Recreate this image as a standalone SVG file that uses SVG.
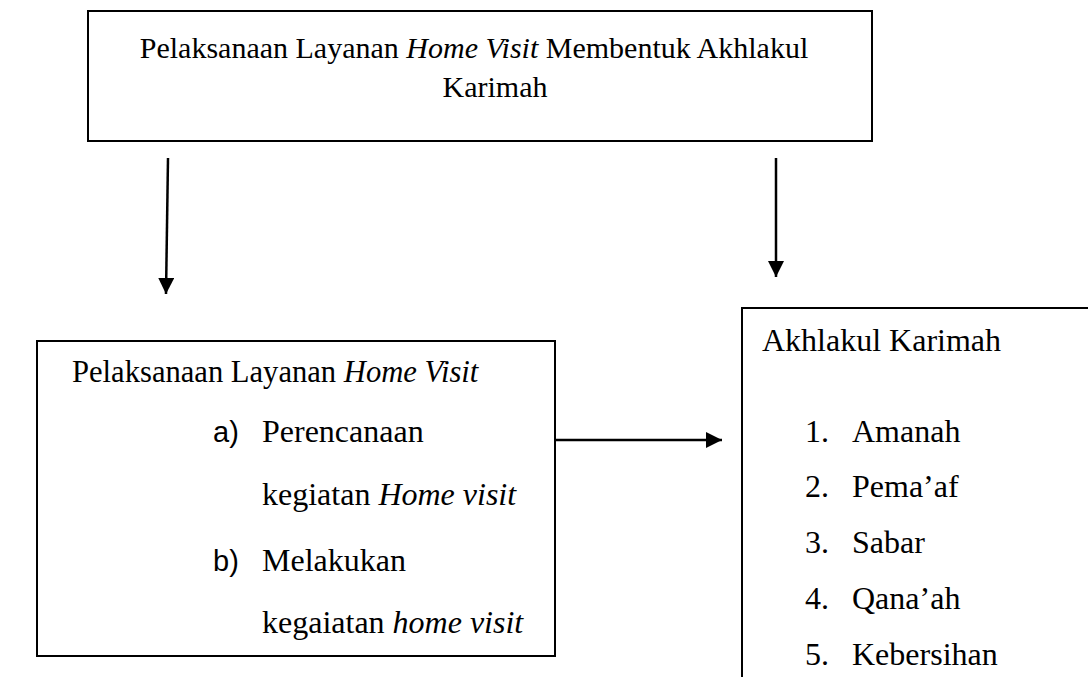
<svg xmlns="http://www.w3.org/2000/svg" width="1088" height="677" viewBox="0 0 1088 677">
<style>
.box{fill:#fff;stroke:#000;stroke-width:2}
.t{font-family:"Liberation Serif","Times New Roman",serif;font-size:32px;fill:#000}
.h{font-family:"Liberation Serif","Times New Roman",serif;font-size:30px;fill:#000}
.s{font-family:"Liberation Sans",Arial,sans-serif;font-size:29px;fill:#000}
.c{stroke:#000;stroke-width:2.5;fill:none}
</style>
<defs>
<marker id="ah" markerUnits="userSpaceOnUse" markerWidth="16" markerHeight="16" viewBox="0 0 16 16" refX="16" refY="8" orient="auto">
<path d="M0,0 L16,8 L0,16 Z" fill="#000"/>
</marker>
</defs>
<g id="top">
<rect class="box" x="88" y="11" width="784" height="130"/>
<text class="h" x="474" y="58" text-anchor="middle">Pelaksanaan Layanan <tspan font-style="italic">Home Visit</tspan> Membentuk Akhlakul</text>
<text class="h" x="495" y="97" text-anchor="middle">Karimah</text>
</g>
<g id="left">
<rect class="box" x="37" y="341" width="518" height="315"/>
<text class="h" x="72" y="382" style="font-size:30.6px">Pelaksanaan Layanan <tspan font-style="italic">Home Visit</tspan></text>
<text class="s" x="213" y="442">a)</text>
<text class="t" x="262" y="442">Perencanaan</text>
<text class="t" x="262" y="505">kegiatan <tspan font-style="italic">Home visit</tspan></text>
<text class="s" x="213" y="571">b)</text>
<text class="t" x="262" y="571">Melakukan</text>
<text class="t" x="262" y="633">kegaiatan <tspan font-style="italic">home visit</tspan></text>
</g>
<g id="right">
<rect class="box" x="742" y="308" width="400" height="420"/>
<text class="t" x="762" y="351">Akhlakul Karimah</text>
<text class="t" x="805" y="442">1.</text><text class="t" x="852" y="442">Amanah</text>
<text class="t" x="805" y="497">2.</text><text class="t" x="852" y="497">Pema’af</text>
<text class="t" x="805" y="553">3.</text><text class="t" x="852" y="553">Sabar</text>
<text class="t" x="805" y="609">4.</text><text class="t" x="852" y="609">Qana’ah</text>
<text class="t" x="805" y="665">5.</text><text class="t" x="852" y="665">Kebersihan</text>
</g>
<g id="connectors">
<line class="c" x1="168" y1="158" x2="166" y2="294" marker-end="url(#ah)"/>
<line class="c" x1="776" y1="158" x2="776" y2="277" marker-end="url(#ah)"/>
<line class="c" x1="555" y1="440" x2="722" y2="440" marker-end="url(#ah)"/>
</g>
</svg>
